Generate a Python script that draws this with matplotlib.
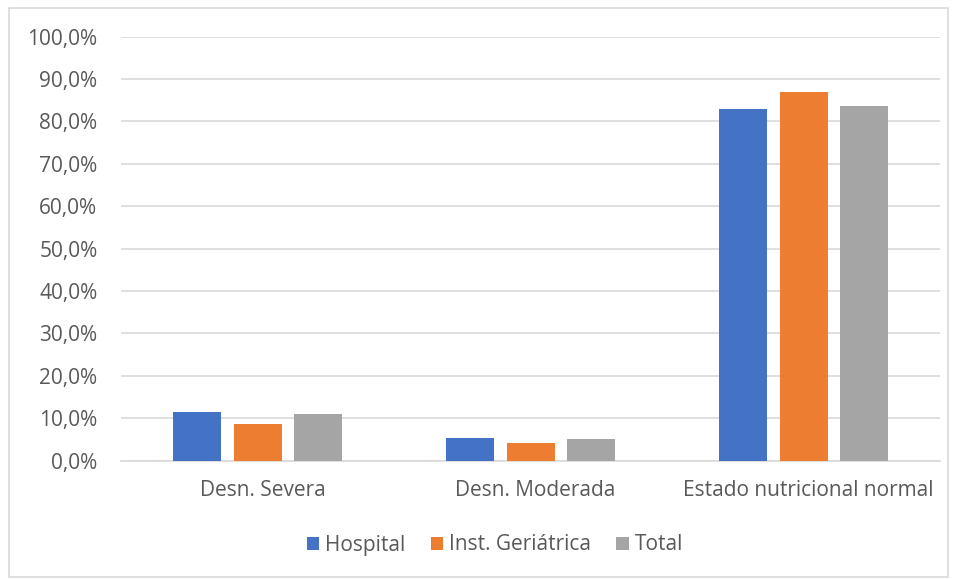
import matplotlib
matplotlib.use("Agg")
import matplotlib.pyplot as plt
import matplotlib.transforms as mtransforms
from matplotlib.patches import Rectangle
import numpy as np

categories = ["Desn. Severa", "Desn. Moderada", "Estado nutricional normal"]
series_names = ["Hospital", "Inst. Geriátrica", "Total"]
hospital = [11.5, 5.2, 82.8]
geriatrica = [8.6, 4.1, 86.8]
total = [11.0, 5.0, 83.7]
colors = ["#4472C4", "#ED7D31", "#A5A5A5"]
yticks = list(range(0, 101, 10))
ytick_labels = [f"{v},0%" for v in yticks]

plt.rcParams["font.family"] = ["Open Sans", "DejaVu Sans"]
text_color = "#595959"
fs = 15

fig = plt.figure(figsize=(9.57, 5.79), dpi=100)
W, H = 957, 579
ax = fig.add_axes([121 / W, 1 - 460.5 / H, (940 - 121) / W, (460.5 - 36.5) / H])

x = np.arange(len(categories))
bw = 48 / 273
step = 60.5 / 273
for i, (vals, name, c) in enumerate(zip([hospital, geriatrica, total], series_names, colors)):
    ax.bar(x + (i - 1) * step, vals, width=bw, color=c, label=name, zorder=3)

ax.set_xlim(-0.5, 2.5)
ax.set_ylim(0, 100)
ax.set_yticks(yticks)
ax.set_yticklabels(ytick_labels)
ax.set_xticks(x)
ax.set_xticklabels(categories)
ax.tick_params(axis="both", length=0, labelsize=fs, colors=text_color)
ax.tick_params(axis="y", pad=17)
ax.tick_params(axis="x", pad=14)
ax.grid(axis="y", color="#D9D9D9", linewidth=1.2, zorder=0)
for s in ["top", "right", "left"]:
    ax.spines[s].set_visible(False)
ax.spines["bottom"].set_color("#D9D9D9")
ax.spines["bottom"].set_linewidth(1.2)

# nudge category labels slightly to the right
shift = mtransforms.ScaledTranslation(5 / 100, 0, fig.dpi_scale_trans)
for lbl in ax.get_xticklabels():
    lbl.set_transform(lbl.get_transform() + shift)

leg = fig.legend(loc="center", bbox_to_anchor=(495 / W, 1 - 545 / H), ncol=3, frameon=False,
                 fontsize=fs, handlelength=0.6, handleheight=0.6, handletextpad=0.3,
                 columnspacing=1.2, labelcolor=text_color)

fig.patches.append(Rectangle((9 / W, 1 - 577 / H), (948 - 9) / W, (577 - 8) / H,
                             transform=fig.transFigure, fill=False,
                             edgecolor="#D9D9D9", linewidth=1.2))

fig.savefig("out.png", dpi=100, facecolor="white")
